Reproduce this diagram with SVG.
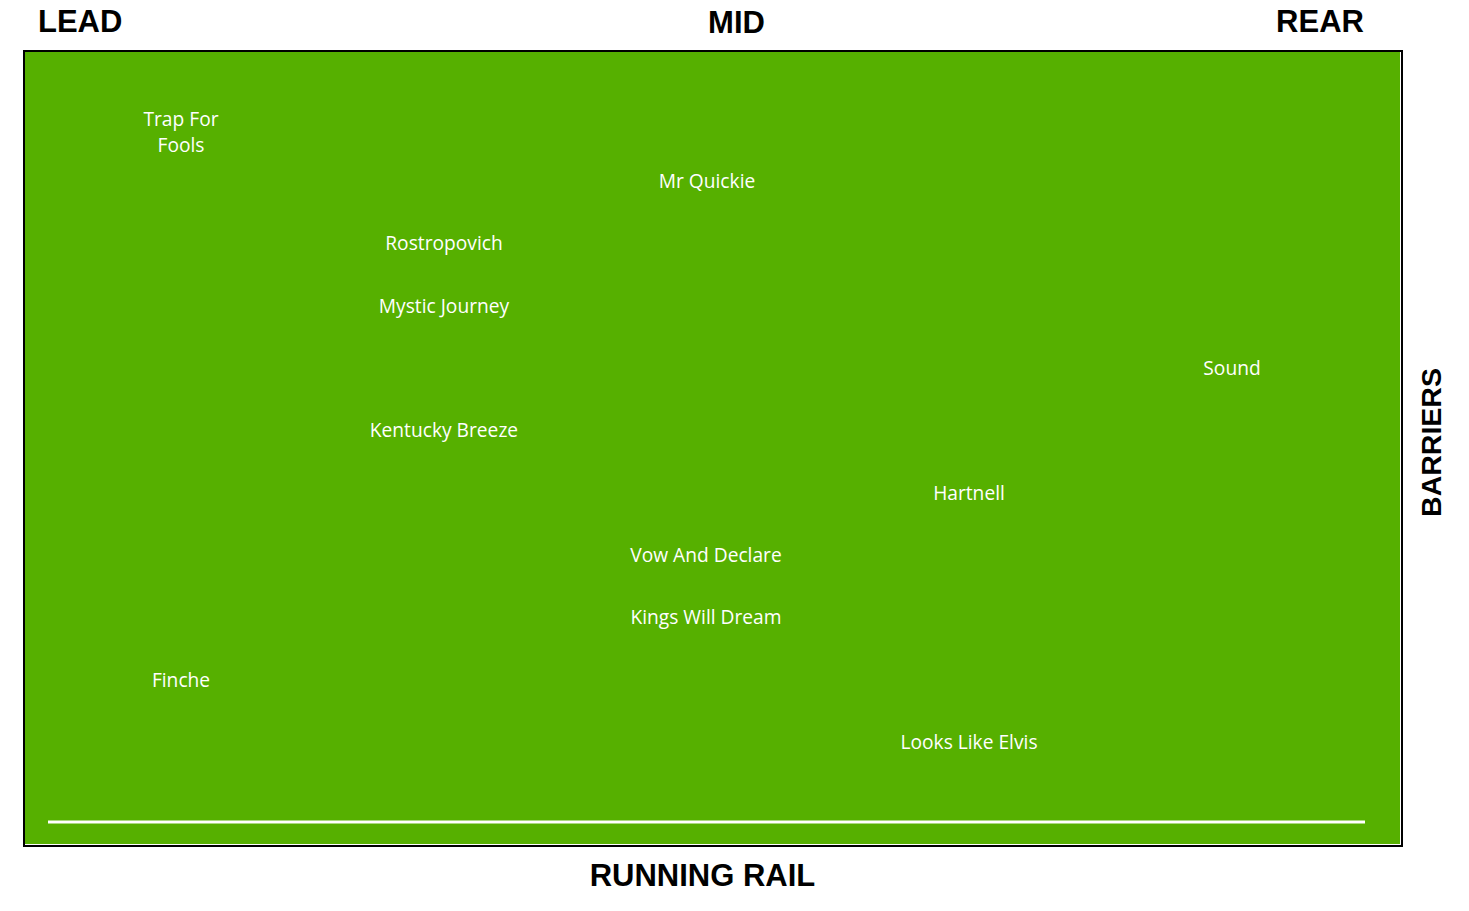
<svg xmlns="http://www.w3.org/2000/svg" width="1469" height="911" viewBox="0 0 1469 911">
<style>
.hdr{font-family:"Liberation Sans",Arial,sans-serif;font-weight:bold;font-size:31px;fill:#000}
.lbl{font-family:"Open Sans","Noto Sans",sans-serif;font-size:19.2px;fill:#fff;text-anchor:middle}
</style>
<rect x="0" y="0" width="1469" height="911" fill="#fff"/>
<g id="field">
<rect x="24" y="51" width="1378" height="795" fill="#fff" stroke="#000" stroke-width="2"/>
<rect x="25" y="52" width="1375" height="792" fill="#56B000"/>
</g>
<g id="connectors">
<line x1="48" y1="822" x2="1365" y2="822" stroke="#fff" stroke-width="3"/>
</g>
<g id="headers">
<text class="hdr" x="38" y="32">LEAD</text>
<text class="hdr" x="736.5" y="33" text-anchor="middle">MID</text>
<text class="hdr" x="1320" y="32" text-anchor="middle">REAR</text>
<text class="hdr" x="702.5" y="886" text-anchor="middle">RUNNING RAIL</text>
<text class="hdr" transform="translate(1441,442.5) rotate(-90)" text-anchor="middle" style="font-size:28.5px">BARRIERS</text>
</g>
<g id="n-trap"><text class="lbl" x="181" y="126">Trap For</text><text class="lbl" x="181" y="152">Fools</text></g>
<g id="n-mrquickie"><text class="lbl" x="707" y="188">Mr Quickie</text></g>
<g id="n-rostropovich"><text class="lbl" x="444" y="250">Rostropovich</text></g>
<g id="n-mystic"><text class="lbl" x="444" y="313">Mystic Journey</text></g>
<g id="n-sound"><text class="lbl" x="1232" y="375">Sound</text></g>
<g id="n-kentucky"><text class="lbl" x="444" y="437">Kentucky Breeze</text></g>
<g id="n-hartnell"><text class="lbl" x="969" y="500">Hartnell</text></g>
<g id="n-vow"><text class="lbl" x="706" y="562">Vow And Declare</text></g>
<g id="n-kings"><text class="lbl" x="706" y="624">Kings Will Dream</text></g>
<g id="n-finche"><text class="lbl" x="181" y="687">Finche</text></g>
<g id="n-elvis"><text class="lbl" x="969" y="749">Looks Like Elvis</text></g>
</svg>
